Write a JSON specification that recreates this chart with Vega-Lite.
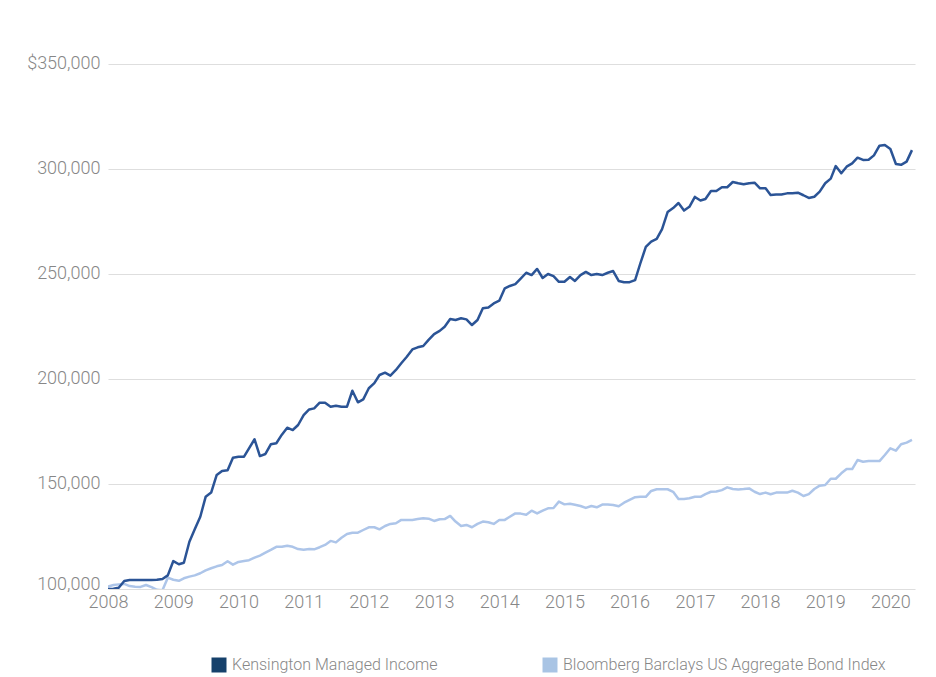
{
  "$schema": "https://vega.github.io/schema/vega-lite/v6.json",
  "width": 807,
  "height": 525,
  "autosize": {"type": "none"},
  "padding": {"left": 108, "top": 64, "right": 21, "bottom": 88},
  "background": "#ffffff",
  "config": {
    "view": {"stroke": null},
    "font": "Roboto",
    "axis": {"labelFont": "Roboto", "labelFontWeight": 300, "labelColor": "#878787", "labelFontSize": 18, "title": null, "ticks": false, "tickSize": 0, "domain": false},
    "legend": {"labelFont": "Roboto", "labelFontWeight": 300}
  },
  "layer": [
    {
      "data": {"values": [
        {"d":"2008-01-01","v":101200},{"d":"2008-02-01","v":101900},{"d":"2008-03-01","v":102200},{"d":"2008-04-01","v":102400},{"d":"2008-05-01","v":101400},{"d":"2008-06-01","v":101100},{"d":"2008-07-01","v":101000},{"d":"2008-08-01","v":101900},{"d":"2008-09-01","v":100900},{"d":"2008-10-01","v":99600},{"d":"2008-11-01","v":99400},{"d":"2008-12-01","v":105400},
        {"d":"2009-01-01","v":104400},{"d":"2009-02-01","v":103900},{"d":"2009-03-01","v":105100},{"d":"2009-04-01","v":105900},{"d":"2009-05-01","v":106500},{"d":"2009-06-01","v":107500},{"d":"2009-07-01","v":108900},{"d":"2009-08-01","v":109900},{"d":"2009-09-01","v":110800},{"d":"2009-10-01","v":111400},{"d":"2009-11-01","v":113200},{"d":"2009-12-01","v":111600},
        {"d":"2010-01-01","v":112900},{"d":"2010-02-01","v":113300},{"d":"2010-03-01","v":113700},{"d":"2010-04-01","v":114900},{"d":"2010-05-01","v":115900},{"d":"2010-06-01","v":117300},{"d":"2010-07-01","v":118600},{"d":"2010-08-01","v":120100},{"d":"2010-09-01","v":120100},{"d":"2010-10-01","v":120600},{"d":"2010-11-01","v":120100},{"d":"2010-12-01","v":119000},
        {"d":"2011-01-01","v":118700},{"d":"2011-02-01","v":119000},{"d":"2011-03-01","v":118900},{"d":"2011-04-01","v":119900},{"d":"2011-05-01","v":121000},{"d":"2011-06-01","v":122900},{"d":"2011-07-01","v":122200},{"d":"2011-08-01","v":124400},{"d":"2011-09-01","v":126200},{"d":"2011-10-01","v":126800},{"d":"2011-11-01","v":126800},{"d":"2011-12-01","v":128100},
        {"d":"2012-01-01","v":129400},{"d":"2012-02-01","v":129400},{"d":"2012-03-01","v":128400},{"d":"2012-04-01","v":130000},{"d":"2012-05-01","v":131000},{"d":"2012-06-01","v":131300},{"d":"2012-07-01","v":132900},{"d":"2012-08-01","v":132900},{"d":"2012-09-01","v":132900},{"d":"2012-10-01","v":133300},{"d":"2012-11-01","v":133700},{"d":"2012-12-01","v":133500},
        {"d":"2013-01-01","v":132400},{"d":"2013-02-01","v":133200},{"d":"2013-03-01","v":133300},{"d":"2013-04-01","v":134800},{"d":"2013-05-01","v":132100},{"d":"2013-06-01","v":130000},{"d":"2013-07-01","v":130500},{"d":"2013-08-01","v":129400},{"d":"2013-09-01","v":131000},{"d":"2013-10-01","v":132100},{"d":"2013-11-01","v":131800},{"d":"2013-12-01","v":131000},
        {"d":"2014-01-01","v":132900},{"d":"2014-02-01","v":132900},{"d":"2014-03-01","v":134400},{"d":"2014-04-01","v":136000},{"d":"2014-05-01","v":135900},{"d":"2014-06-01","v":135400},{"d":"2014-07-01","v":137300},{"d":"2014-08-01","v":136000},{"d":"2014-09-01","v":137300},{"d":"2014-10-01","v":138400},{"d":"2014-11-01","v":138600},{"d":"2014-12-01","v":141600},
        {"d":"2015-01-01","v":140300},{"d":"2015-02-01","v":140600},{"d":"2015-03-01","v":140100},{"d":"2015-04-01","v":139500},{"d":"2015-05-01","v":138600},{"d":"2015-06-01","v":139500},{"d":"2015-07-01","v":138900},{"d":"2015-08-01","v":140200},{"d":"2015-09-01","v":140200},{"d":"2015-10-01","v":140000},{"d":"2015-11-01","v":139400},{"d":"2015-12-01","v":141100},
        {"d":"2016-01-01","v":142400},{"d":"2016-02-01","v":143700},{"d":"2016-03-01","v":143900},{"d":"2016-04-01","v":143900},{"d":"2016-05-01","v":146700},{"d":"2016-06-01","v":147500},{"d":"2016-07-01","v":147500},{"d":"2016-08-01","v":147500},{"d":"2016-09-01","v":146300},{"d":"2016-10-01","v":142900},{"d":"2016-11-01","v":142900},{"d":"2016-12-01","v":143200},
        {"d":"2017-01-01","v":143900},{"d":"2017-02-01","v":143900},{"d":"2017-03-01","v":145200},{"d":"2017-04-01","v":146300},{"d":"2017-05-01","v":146400},{"d":"2017-06-01","v":147100},{"d":"2017-07-01","v":148400},{"d":"2017-08-01","v":147600},{"d":"2017-09-01","v":147400},{"d":"2017-10-01","v":147600},{"d":"2017-11-01","v":147900},{"d":"2017-12-01","v":146300},
        {"d":"2018-01-01","v":145200},{"d":"2018-02-01","v":145900},{"d":"2018-03-01","v":145100},{"d":"2018-04-01","v":145900},{"d":"2018-05-01","v":145900},{"d":"2018-06-01","v":145900},{"d":"2018-07-01","v":146800},{"d":"2018-08-01","v":145900},{"d":"2018-09-01","v":144300},{"d":"2018-10-01","v":145200},{"d":"2018-11-01","v":147600},{"d":"2018-12-01","v":149200},
        {"d":"2019-01-01","v":149500},{"d":"2019-02-01","v":152500},{"d":"2019-03-01","v":152500},{"d":"2019-04-01","v":155100},{"d":"2019-05-01","v":157100},{"d":"2019-06-01","v":157100},{"d":"2019-07-01","v":161400},{"d":"2019-08-01","v":160600},{"d":"2019-09-01","v":160900},{"d":"2019-10-01","v":160900},{"d":"2019-11-01","v":160900},{"d":"2019-12-01","v":163800},
        {"d":"2020-01-01","v":167000},{"d":"2020-02-01","v":165900},{"d":"2020-03-01","v":168900},{"d":"2020-04-01","v":169700},{"d":"2020-05-01","v":171000}
      ]},
      "mark": {"type": "line", "strokeWidth": 2.5, "clip": true, "strokeJoin": "round"},
      "encoding": {
        "x": {"field": "d", "type": "temporal",
          "scale": {"type": "utc", "domain": [{"year": 2008, "month": 1, "date": 1, "utc": true}, {"year": 2020, "month": 5, "date": 18, "utc": true}]},
          "axis": {"grid": false, "labelPadding": 4,
            "values": [{"year":2008,"month":1,"date":1,"utc":true},{"year":2009,"month":1,"date":1,"utc":true},{"year":2010,"month":1,"date":1,"utc":true},{"year":2011,"month":1,"date":1,"utc":true},{"year":2012,"month":1,"date":1,"utc":true},{"year":2013,"month":1,"date":1,"utc":true},{"year":2014,"month":1,"date":1,"utc":true},{"year":2015,"month":1,"date":1,"utc":true},{"year":2016,"month":1,"date":1,"utc":true},{"year":2017,"month":1,"date":1,"utc":true},{"year":2018,"month":1,"date":1,"utc":true},{"year":2019,"month":1,"date":1,"utc":true},{"year":2020,"month":1,"date":1,"utc":true}],
            "labelExpr": "utcFormat(datum.value, '%Y')", "labelOverlap": false, "labelFlush": false}},
        "y": {"field": "v", "type": "quantitative",
          "scale": {"domain": [100000, 350000], "nice": false, "zero": false},
          "axis": {"grid": true, "gridColor": "#dedede", "gridWidth": 1.2, "labelPadding": 8,
            "values": [100000, 150000, 200000, 250000, 300000, 350000],
            "labelExpr": "datum.value === 350000 ? '$350,000' : format(datum.value, ',')",
            "labelOffset": {"condition": {"test": "datum.value === 100000", "value": -5}, "value": -1}}},
        "color": {"datum": "Bloomberg Barclays US Aggregate Bond Index",
          "scale": {"domain": ["Kensington Managed Income", "Bloomberg Barclays US Aggregate Bond Index"], "range": ["#2b5496", "#adc5e9"]},
          "legend": {"orient": "none", "legendX": 103, "legendY": 593, "direction": "horizontal", "title": null,
            "symbolType": "square", "symbolSize": 225, "labelFontSize": 16, "labelColor": "#878787", "labelLimit": 500,
            "columnPadding": 104, "labelOffset": 5, "symbolStrokeWidth": 0,
            "encode": {"symbols": {"update": {"fill": {"signal": "datum.value === 'Kensington Managed Income' ? '#16416b' : '#a9c4e4'"}, "fillOpacity": {"value": 1}, "strokeWidth": {"value": 0}}}}}}
      }
    },
    {
      "data": {"values": [
        {"d":"2008-01-01","v":100000},{"d":"2008-02-01","v":100100},{"d":"2008-03-01","v":100600},{"d":"2008-04-01","v":103800},{"d":"2008-05-01","v":104300},{"d":"2008-06-01","v":104300},{"d":"2008-07-01","v":104300},{"d":"2008-08-01","v":104300},{"d":"2008-09-01","v":104300},{"d":"2008-10-01","v":104400},{"d":"2008-11-01","v":104800},{"d":"2008-12-01","v":106500},
        {"d":"2009-01-01","v":113300},{"d":"2009-02-01","v":111800},{"d":"2009-03-01","v":112500},{"d":"2009-04-01","v":122500},{"d":"2009-05-01","v":128400},{"d":"2009-06-01","v":134400},{"d":"2009-07-01","v":143900},{"d":"2009-08-01","v":145900},{"d":"2009-09-01","v":154300},{"d":"2009-10-01","v":156200},{"d":"2009-11-01","v":156500},{"d":"2009-12-01","v":162500},
        {"d":"2010-01-01","v":163000},{"d":"2010-02-01","v":163000},{"d":"2010-03-01","v":167000},{"d":"2010-04-01","v":171300},{"d":"2010-05-01","v":163300},{"d":"2010-06-01","v":164300},{"d":"2010-07-01","v":168900},{"d":"2010-08-01","v":169400},{"d":"2010-09-01","v":173500},{"d":"2010-10-01","v":176800},{"d":"2010-11-01","v":175700},{"d":"2010-12-01","v":178100},
        {"d":"2011-01-01","v":182800},{"d":"2011-02-01","v":185500},{"d":"2011-03-01","v":186000},{"d":"2011-04-01","v":188700},{"d":"2011-05-01","v":188700},{"d":"2011-06-01","v":186800},{"d":"2011-07-01","v":187300},{"d":"2011-08-01","v":186800},{"d":"2011-09-01","v":186800},{"d":"2011-10-01","v":194400},{"d":"2011-11-01","v":188900},{"d":"2011-12-01","v":190300},
        {"d":"2012-01-01","v":195600},{"d":"2012-02-01","v":198000},{"d":"2012-03-01","v":201900},{"d":"2012-04-01","v":203000},{"d":"2012-05-01","v":201600},{"d":"2012-06-01","v":204300},{"d":"2012-07-01","v":207500},{"d":"2012-08-01","v":210600},{"d":"2012-09-01","v":214100},{"d":"2012-10-01","v":215100},{"d":"2012-11-01","v":215700},{"d":"2012-12-01","v":218600},
        {"d":"2013-01-01","v":221400},{"d":"2013-02-01","v":222900},{"d":"2013-03-01","v":224900},{"d":"2013-04-01","v":228600},{"d":"2013-05-01","v":228100},{"d":"2013-06-01","v":228900},{"d":"2013-07-01","v":228400},{"d":"2013-08-01","v":225700},{"d":"2013-09-01","v":228100},{"d":"2013-10-01","v":233700},{"d":"2013-11-01","v":234100},{"d":"2013-12-01","v":236000},
        {"d":"2014-01-01","v":237300},{"d":"2014-02-01","v":243200},{"d":"2014-03-01","v":244300},{"d":"2014-04-01","v":245200},{"d":"2014-05-01","v":247800},{"d":"2014-06-01","v":250600},{"d":"2014-07-01","v":249500},{"d":"2014-08-01","v":252400},{"d":"2014-09-01","v":248100},{"d":"2014-10-01","v":250000},{"d":"2014-11-01","v":249000},{"d":"2014-12-01","v":246300},
        {"d":"2015-01-01","v":246300},{"d":"2015-02-01","v":248600},{"d":"2015-03-01","v":246700},{"d":"2015-04-01","v":249500},{"d":"2015-05-01","v":251000},{"d":"2015-06-01","v":249500},{"d":"2015-07-01","v":250000},{"d":"2015-08-01","v":249500},{"d":"2015-09-01","v":250600},{"d":"2015-10-01","v":251400},{"d":"2015-11-01","v":246700},{"d":"2015-12-01","v":246100},
        {"d":"2016-01-01","v":246100},{"d":"2016-02-01","v":247100},{"d":"2016-03-01","v":255000},{"d":"2016-04-01","v":262900},{"d":"2016-05-01","v":265400},{"d":"2016-06-01","v":266700},{"d":"2016-07-01","v":271400},{"d":"2016-08-01","v":279500},{"d":"2016-09-01","v":281400},{"d":"2016-10-01","v":283800},{"d":"2016-11-01","v":280200},{"d":"2016-12-01","v":282000},
        {"d":"2017-01-01","v":286700},{"d":"2017-02-01","v":285000},{"d":"2017-03-01","v":285700},{"d":"2017-04-01","v":289500},{"d":"2017-05-01","v":289500},{"d":"2017-06-01","v":291300},{"d":"2017-07-01","v":291300},{"d":"2017-08-01","v":293800},{"d":"2017-09-01","v":293200},{"d":"2017-10-01","v":292700},{"d":"2017-11-01","v":293200},{"d":"2017-12-01","v":293500},
        {"d":"2018-01-01","v":290800},{"d":"2018-02-01","v":290800},{"d":"2018-03-01","v":287600},{"d":"2018-04-01","v":287900},{"d":"2018-05-01","v":287900},{"d":"2018-06-01","v":288400},{"d":"2018-07-01","v":288400},{"d":"2018-08-01","v":288700},{"d":"2018-09-01","v":287500},{"d":"2018-10-01","v":286200},{"d":"2018-11-01","v":286800},{"d":"2018-12-01","v":289200},
        {"d":"2019-01-01","v":293200},{"d":"2019-02-01","v":295400},{"d":"2019-03-01","v":301400},{"d":"2019-04-01","v":298000},{"d":"2019-05-01","v":301100},{"d":"2019-06-01","v":302700},{"d":"2019-07-01","v":305400},{"d":"2019-08-01","v":304300},{"d":"2019-09-01","v":304400},{"d":"2019-10-01","v":306500},{"d":"2019-11-01","v":311100},{"d":"2019-12-01","v":311400},
        {"d":"2020-01-01","v":309500},{"d":"2020-02-01","v":302400},{"d":"2020-03-01","v":302000},{"d":"2020-04-01","v":303500},{"d":"2020-05-01","v":309000}
      ]},
      "mark": {"type": "line", "strokeWidth": 2.5, "clip": true, "strokeJoin": "round"},
      "encoding": {
        "x": {"field": "d", "type": "temporal"},
        "y": {"field": "v", "type": "quantitative"},
        "color": {"datum": "Kensington Managed Income"}
      }
    }
  ]
}
